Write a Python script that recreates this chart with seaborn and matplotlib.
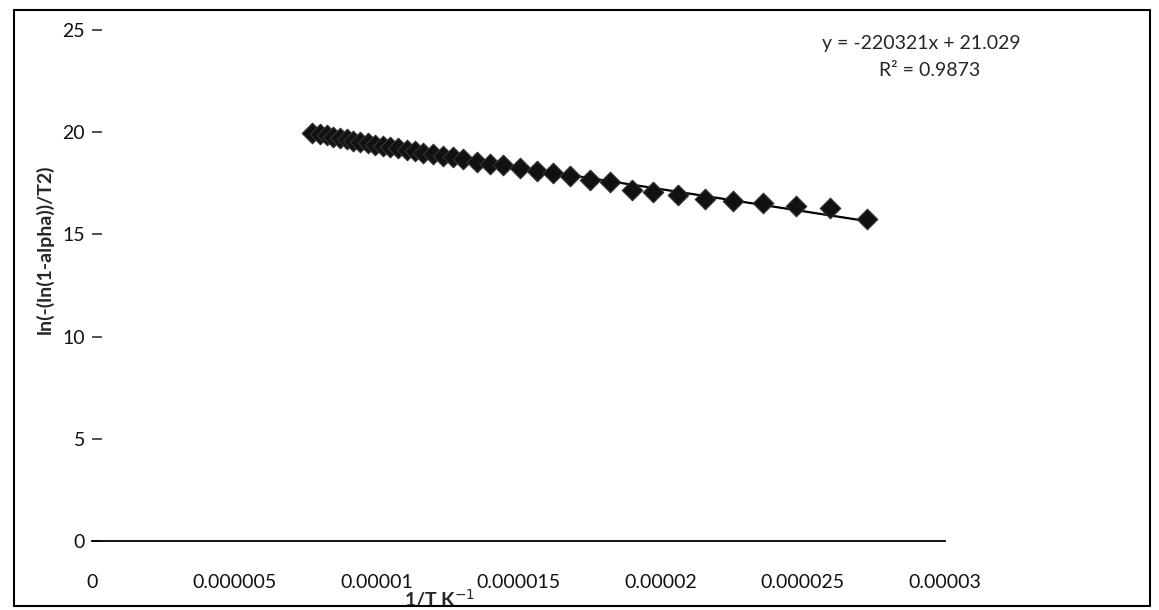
import numpy as np
import matplotlib
matplotlib.use("Agg")
import matplotlib.pyplot as plt
import seaborn as sns
import pandas as pd
from matplotlib.patches import Rectangle

# 1/T values
inv_T = [7.74, 8.02, 8.27, 8.48, 8.72, 8.97, 9.18, 9.43, 9.71, 9.95,
         10.24, 10.48, 10.76, 11.08, 11.36, 11.64, 11.99, 12.35, 12.70, 13.05,
         13.54, 14.00, 14.46, 15.05, 15.65, 16.21, 16.81, 17.52, 18.22, 18.99,
         19.73, 20.61, 21.56, 22.55, 23.60, 24.76, 25.96, 27.26]
inv_T = [v * 1e-6 for v in inv_T]

# ln(-(ln(1-alpha))/T2)
ln_val = [19.96, 19.91, 19.86, 19.77, 19.72, 19.67, 19.57, 19.52, 19.47, 19.37,
          19.32, 19.28, 19.23, 19.13, 19.08, 18.98, 18.93, 18.84, 18.79, 18.69,
          18.54, 18.44, 18.40, 18.25, 18.10, 18.00, 17.86, 17.66, 17.56, 17.17,
          17.07, 16.93, 16.73, 16.63, 16.54, 16.39, 16.29, 15.75]

x_ticks = [0, 0.000005, 0.00001, 0.000015, 0.00002, 0.000025, 0.00003]
x_ticklabels = ["0", "0.000005", "0.00001", "0.000015", "0.00002", "0.000025", "0.00003"]
y_ticks = [0, 5, 10, 15, 20, 25]

eq_text = "y = -220321x + 21.029"
r2_text = "R² = 0.9873"

df = pd.DataFrame({"x": inv_T, "y": ln_val})

sns.set_theme(style="white")
plt.rcParams['font.family'] = ['Lato', 'DejaVu Sans']

fig = plt.figure(figsize=(11.59, 6.10), dpi=100)
ax = fig.add_axes([92 / 1159, 69 / 610, 853 / 1159, 511 / 610])

sns.regplot(data=df, x="x", y="y", scatter=False, ci=None, truncate=True,
            line_kws={"color": "black", "lw": 1.6}, ax=ax)
sns.scatterplot(data=df, x="x", y="y", marker="D", s=110, color="#111111",
                edgecolor="#333333", linewidth=0.8, zorder=3, ax=ax)

ax.set_xlim(0, 0.00003)
ax.set_ylim(0, 25)
ax.set_xticks(x_ticks)
ax.set_xticklabels(x_ticklabels)
ax.set_yticks(y_ticks)

for s in ["top", "right", "left"]:
    ax.spines[s].set_visible(False)
ax.spines["bottom"].set_color("black")
ax.spines["bottom"].set_linewidth(1.3)

ax.tick_params(axis="y", left=True, direction="in", length=7, width=1.2,
               color="#333333", labelsize=14, pad=5, labelcolor="#111111")
ax.tick_params(axis="x", bottom=False, labelsize=14, pad=18, labelcolor="#111111")

ax.set_xlabel("1/T K$^{-1}$", fontsize=14, fontweight="bold")
ax.xaxis.set_label_coords(0.408, -0.09)
ax.set_ylabel("ln(-(ln(1-alpha))/T2)", fontsize=14, fontweight="bold")
ax.yaxis.set_label_coords(-0.045, 0.57)

fig.text(921 / 1159, 1 - 43 / 610, eq_text, ha="center", va="center", fontsize=14)
fig.text(930 / 1159, 1 - 70 / 610, r2_text, ha="center", va="center", fontsize=14)

fig.patches.append(Rectangle((14 / 1159, 4 / 610), 1136 / 1159, 596 / 610,
                             transform=fig.transFigure, fill=False,
                             edgecolor="black", lw=1.5))

fig.savefig("out.png", dpi=100)
